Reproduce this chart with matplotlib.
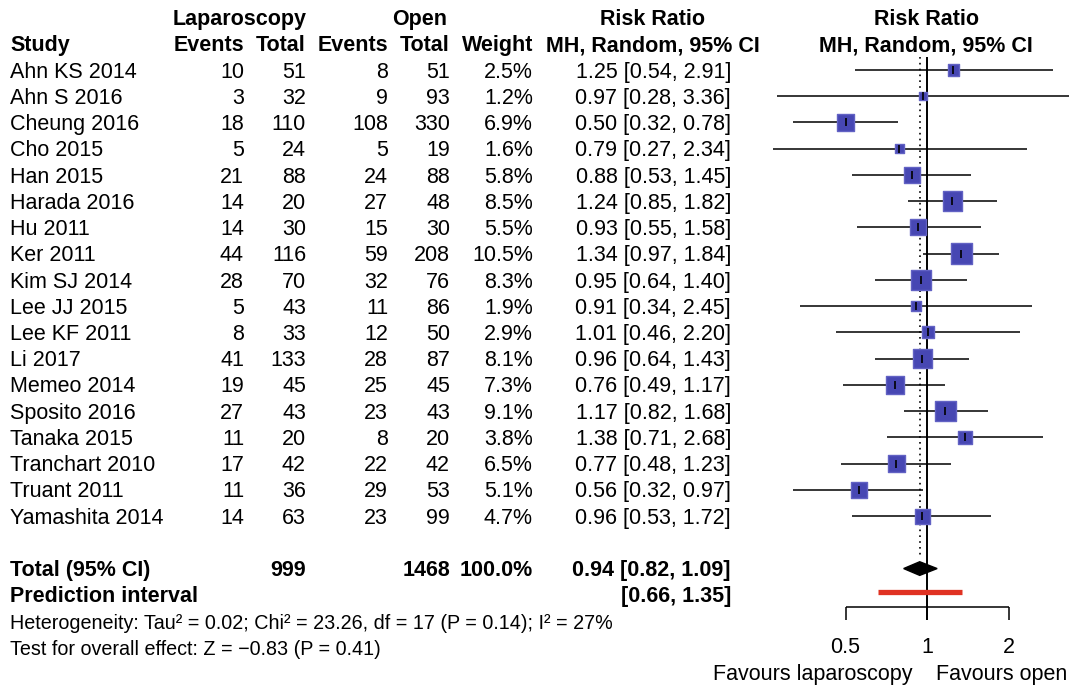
'''
Forest plot: laparoscopic vs open surgery, risk ratio (MH, random effects)
'''

import numpy as np
import matplotlib
matplotlib.use("Agg")
import matplotlib.pyplot as plt
from matplotlib.patches import Polygon

plt.rcParams['font.family'] = ['Liberation Sans', 'DejaVu Sans']

# Study data
studies = ["Ahn KS 2014", "Ahn S 2016", "Cheung 2016", "Cho 2015", "Han 2015",
           "Harada 2016", "Hu 2011", "Ker 2011", "Kim SJ 2014", "Lee JJ 2015",
           "Lee KF 2011", "Li 2017", "Memeo 2014", "Sposito 2016", "Tanaka 2015",
           "Tranchart 2010", "Truant 2011", "Yamashita 2014"]
lap_events = [10, 3, 18, 5, 21, 14, 14, 44, 28, 5, 8, 41, 19, 27, 11, 17, 11, 14]
lap_total = [51, 32, 110, 24, 88, 20, 30, 116, 70, 43, 33, 133, 45, 43, 20, 42, 36, 63]
open_events = [8, 9, 108, 5, 24, 27, 15, 59, 32, 11, 12, 28, 25, 23, 8, 22, 29, 23]
open_total = [51, 93, 330, 19, 88, 48, 30, 208, 76, 86, 50, 87, 45, 43, 20, 42, 53, 99]
weight = [2.5, 1.2, 6.9, 1.6, 5.8, 8.5, 5.5, 10.5, 8.3, 1.9, 2.9, 8.1, 7.3, 9.1,
          3.8, 6.5, 5.1, 4.7]
rr = [1.25, 0.97, 0.50, 0.79, 0.88, 1.24, 0.93, 1.34, 0.95, 0.91, 1.01, 0.96,
      0.76, 1.17, 1.38, 0.77, 0.56, 0.96]
rr_lo = [0.54, 0.28, 0.32, 0.27, 0.53, 0.85, 0.55, 0.97, 0.64, 0.34, 0.46, 0.64,
         0.49, 0.82, 0.71, 0.48, 0.32, 0.53]
rr_hi = [2.91, 3.36, 0.78, 2.34, 1.45, 1.82, 1.58, 1.84, 1.40, 2.45, 2.20, 1.43,
         1.17, 1.68, 2.68, 1.23, 0.97, 1.72]

total_lap = 999
total_open = 1468
pooled = 0.94
pooled_lo = 0.82
pooled_hi = 1.09
pi_lo = 0.66
pi_hi = 1.35
ticks = [0.5, 1, 2]
tick_labels = ["0.5", "1", "2"]

# Layout: rows in units of row spacing, pixels measured from the top
W, H = 1069, 685
row0_px = 70.0
row_h = 26.24
fs = 15.5
fs_small = 14.2
dy = 0.08  # nudge text down a little to sit on the row centre

fig = plt.figure(figsize=(W / 100, H / 100), dpi=100)

ylim = ((H - row0_px) / row_h, -row0_px / row_h)

ax_t = fig.add_axes([0, 0, 1, 1])
ax_t.set_xlim(0, W)
ax_t.set_ylim(*ylim)
ax_t.axis('off')

n = len(studies)
rows = np.arange(n)
total_row = n + 1
pi_row = n + 2

# Header
hdr = dict(fontsize=fs, fontweight='bold', va='center')
ax_t.text(240, -2 + dy, "Laparoscopy", ha='center', **hdr)
ax_t.text(420, -2 + dy, "Open", ha='center', **hdr)
ax_t.text(652, -2 + dy, "Risk Ratio", ha='center', **hdr)
ax_t.text(10, -1 + dy, "Study", ha='left', **hdr)
ax_t.text(244, -1 + dy, "Events", ha='right', **hdr)
ax_t.text(306, -1 + dy, "Total", ha='right', **hdr)
ax_t.text(388, -1 + dy, "Events", ha='right', **hdr)
ax_t.text(450, -1 + dy, "Total", ha='right', **hdr)
ax_t.text(533, -1 + dy, "Weight", ha='right', **hdr)
ax_t.text(653, -1 + dy, "MH, Random, 95% CI", ha='center', **hdr)
ax_t.text(926, -2 + dy, "Risk Ratio", ha='center', **hdr)
ax_t.text(926, -1 + dy, "MH, Random, 95% CI", ha='center', **hdr)

# Study rows
for i in rows:
    y = i + dy
    ax_t.text(10, y, studies[i], ha='left', va='center', fontsize=fs)
    ax_t.text(244, y, str(lap_events[i]), ha='right', va='center', fontsize=fs)
    ax_t.text(306, y, str(lap_total[i]), ha='right', va='center', fontsize=fs)
    ax_t.text(388, y, str(open_events[i]), ha='right', va='center', fontsize=fs)
    ax_t.text(450, y, str(open_total[i]), ha='right', va='center', fontsize=fs)
    ax_t.text(533, y, f"{weight[i]:.1f}%", ha='right', va='center', fontsize=fs)
    ax_t.text(731, y, f"{rr[i]:.2f} [{rr_lo[i]:.2f}, {rr_hi[i]:.2f}]",
              ha='right', va='center', fontsize=fs)

# Totals
bold = dict(fontsize=fs, fontweight='bold', va='center')
ax_t.text(10, total_row + dy, "Total (95% CI)", ha='left', **bold)
ax_t.text(306, total_row + dy, str(total_lap), ha='right', **bold)
ax_t.text(450, total_row + dy, str(total_open), ha='right', **bold)
ax_t.text(533, total_row + dy, "100.0%", ha='right', **bold)
ax_t.text(731, total_row + dy, f"{pooled:.2f} [{pooled_lo:.2f}, {pooled_hi:.2f}]",
          ha='right', **bold)
ax_t.text(10, pi_row + dy, "Prediction interval", ha='left', **bold)
ax_t.text(731, pi_row + dy, f"[{pi_lo:.2f}, {pi_hi:.2f}]", ha='right', **bold)

ax_t.text(10, pi_row + 1 + dy,
          "Heterogeneity: Tau\u00b2 = 0.02; Chi\u00b2 = 23.26, df = 17 (P = 0.14); I\u00b2 = 27%",
          ha='left', va='center', fontsize=fs_small)
ax_t.text(10, pi_row + 2 + dy, "Test for overall effect: Z = \u22120.83 (P = 0.41)",
          ha='left', va='center', fontsize=fs_small)

# Forest panel, log scale: 1 at x=927 px, one doubling = 81.5 px
x0 = 770
px_one, px_dbl = 927.0, 81.5
ax_f = fig.add_axes([x0 / W, 0, (W - x0) / W, 1])
ax_f.set_xscale('log')
ax_f.set_xlim(2 ** ((x0 - px_one) / px_dbl), 2 ** ((W - px_one) / px_dbl))
ax_f.set_ylim(*ylim)
ax_f.axis('off')

axis_row = (607 - row0_px) / row_h
tick_len = 0.5

# reference lines
ax_f.vlines(1, -0.5, axis_row + tick_len, color='black', lw=1.4, zorder=1)
ax_f.vlines(pooled, -0.5, total_row - 0.5, color='black', lw=1.2,
            linestyles=(0, (1, 2.5)), zorder=1)

# CIs, squares and centre ticks
ax_f.hlines(rows, rr_lo, rr_hi, color='black', lw=1.1, zorder=2)
side_px = 6.3 * np.sqrt(weight) + 1.2
ax_f.scatter(rr, rows, marker='s', s=(side_px * 0.72) ** 2,
             facecolor='#4747b3', edgecolor='#6262c4', linewidth=1.0, zorder=3)
ax_f.scatter(rr, rows, marker='|', s=40, color='black', linewidth=1.2, zorder=4)

# pooled diamond
dh = 0.26
diamond = Polygon([(pooled_lo, total_row), (pooled, total_row - dh),
                   (pooled_hi, total_row), (pooled, total_row + dh)],
                  closed=True, facecolor='black', edgecolor='black', zorder=3)
ax_f.add_patch(diamond)

# prediction interval
ax_f.hlines(pi_row - 0.1, pi_lo, pi_hi, color='#e03222', lw=3.8, zorder=3)

# x axis
ax_f.hlines(axis_row, ticks[0], ticks[-1], color='black', lw=1.1)
ax_f.vlines(ticks, axis_row, axis_row + tick_len, color='black', lw=1.1)
for t, lab in zip(ticks, tick_labels):
    ax_f.text(t, axis_row + 1.45 + dy, lab, ha='center', va='center', fontsize=fs)

ax_t.text(813, 22.94 + dy, "Favours laparoscopy", ha='center', va='center', fontsize=fs)
ax_t.text(1067, 22.94 + dy, "Favours open", ha='right', va='center', fontsize=fs)

fig.savefig("out.png", dpi=100)
